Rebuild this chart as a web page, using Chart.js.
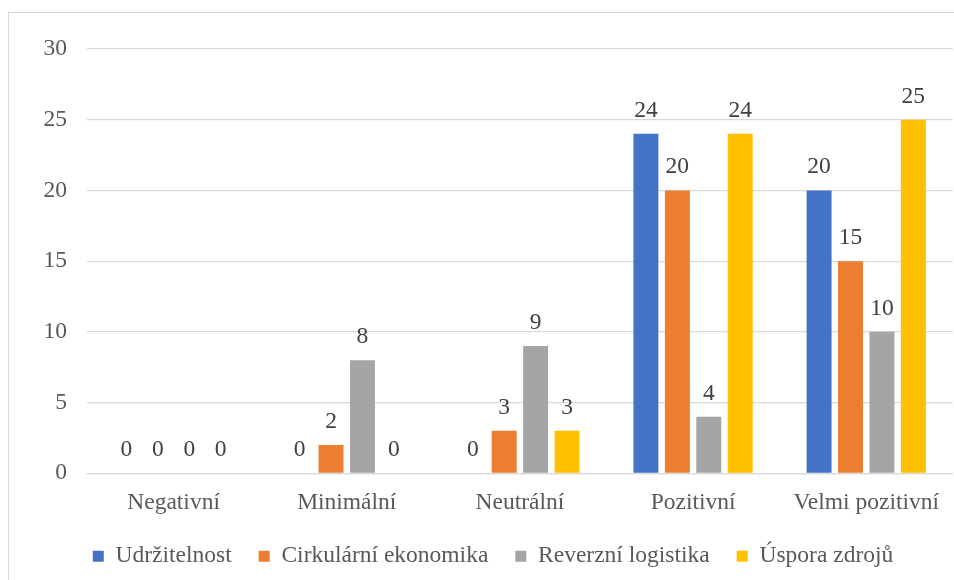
<!DOCTYPE html>
<html><head><meta charset="utf-8">
<script src="https://cdn.jsdelivr.net/npm/chart.js@4.4.1/dist/chart.umd.min.js"></script>
<style>
html,body{margin:0;padding:0;background:#fff;width:954px;height:580px;overflow:hidden;}
#frame{position:absolute;left:8px;top:12px;width:1000px;height:700px;border:1px solid #d9d9d9;box-sizing:border-box;}
#c{position:absolute;left:0;top:0;}
</style></head><body>
<div id="frame"></div>
<canvas id="c" width="954" height="580"></canvas>
<script>
const categories = ["Negativní", "Minimální", "Neutrální", "Pozitivní", "Velmi pozitivní"];
const seriesNames = ["Udržitelnost", "Cirkulární ekonomika", "Reverzní logistika", "Úspora zdrojů"];
const udrzitelnost = [0, 0, 0, 24, 20];
const cirkularniEkonomika = [0, 2, 3, 20, 15];
const reverzniLogistika = [0, 8, 9, 4, 10];
const usporaZdroju = [0, 0, 3, 24, 25];
const yTicks = [0, 5, 10, 15, 20, 25, 30];
const seriesColors = ["#4472C4", "#ED7D31", "#A5A5A5", "#FFC000"];
const seriesValues = [udrzitelnost, cirkularniEkonomika, reverzniLogistika, usporaZdroju];

const FONT = '"Liberation Serif", "Times New Roman", serif';
Chart.defaults.font.family = FONT;
Chart.defaults.font.size = 23.5;
Chart.defaults.color = '#595959';

const valueLabels = {
  id: 'valueLabels',
  afterDatasetsDraw(chart) {
    const ctx = chart.ctx;
    ctx.save();
    ctx.font = '23.5px ' + FONT;
    ctx.fillStyle = '#404040';
    ctx.textAlign = 'center';
    ctx.textBaseline = 'alphabetic';
    chart.data.datasets.forEach((ds, i) => {
      const meta = chart.getDatasetMeta(i);
      meta.data.forEach((bar, j) => {
        ctx.fillText(String(ds.data[j]), bar.x, bar.y - 17);
      });
    });
    ctx.restore();
  }
};

// nudge the legend block to its place under the plot
const legendNudge = {
  id: 'legendNudge',
  afterLayout(chart) {
    const lg = chart.legend;
    if (!lg) return;
    lg.top -= 14; lg.bottom -= 14;
    lg.left += 16; lg.right += 16;
  }
};

new Chart(document.getElementById('c'), {
  type: 'bar',
  data: {
    labels: categories,
    datasets: seriesNames.map((name, i) => ({
      label: name,
      data: seriesValues[i],
      backgroundColor: seriesColors[i],
      borderWidth: 0,
      barPercentage: 0.794,
      categoryPercentage: 0.726
    }))
  },
  options: {
    responsive: false,
    animation: false,
    devicePixelRatio: 1,
    layout: { padding: { top: 49, left: 0, right: 0, bottom: -12 } },
    plugins: {
      tooltip: { enabled: false },
      legend: {
        position: 'bottom',
        labels: {
          boxWidth: 11,
          boxHeight: 11,
          padding: 27,
          color: '#595959',
          font: { size: 23.5, family: FONT }
        }
      }
    },
    scales: {
      x: {
        grid: { display: false, drawTicks: false },
        border: { display: true, color: '#d9d9d9', width: 1.3 },
        ticks: { padding: 15, color: '#595959', font: { size: 23.5, family: FONT } }
      },
      y: {
        min: 0,
        max: 30,
        afterBuildTicks: s => { s.ticks = yTicks.map(v => ({ value: v })); },
        afterFit: s => { s.width = 87; },
        grid: { color: '#d9d9d9', lineWidth: 1.3, drawTicks: false },
        border: { display: false },
        ticks: { padding: 20, color: '#595959', font: { size: 23.5, family: FONT } }
      }
    }
  },
  plugins: [valueLabels, legendNudge]
});
</script>
</body></html>
